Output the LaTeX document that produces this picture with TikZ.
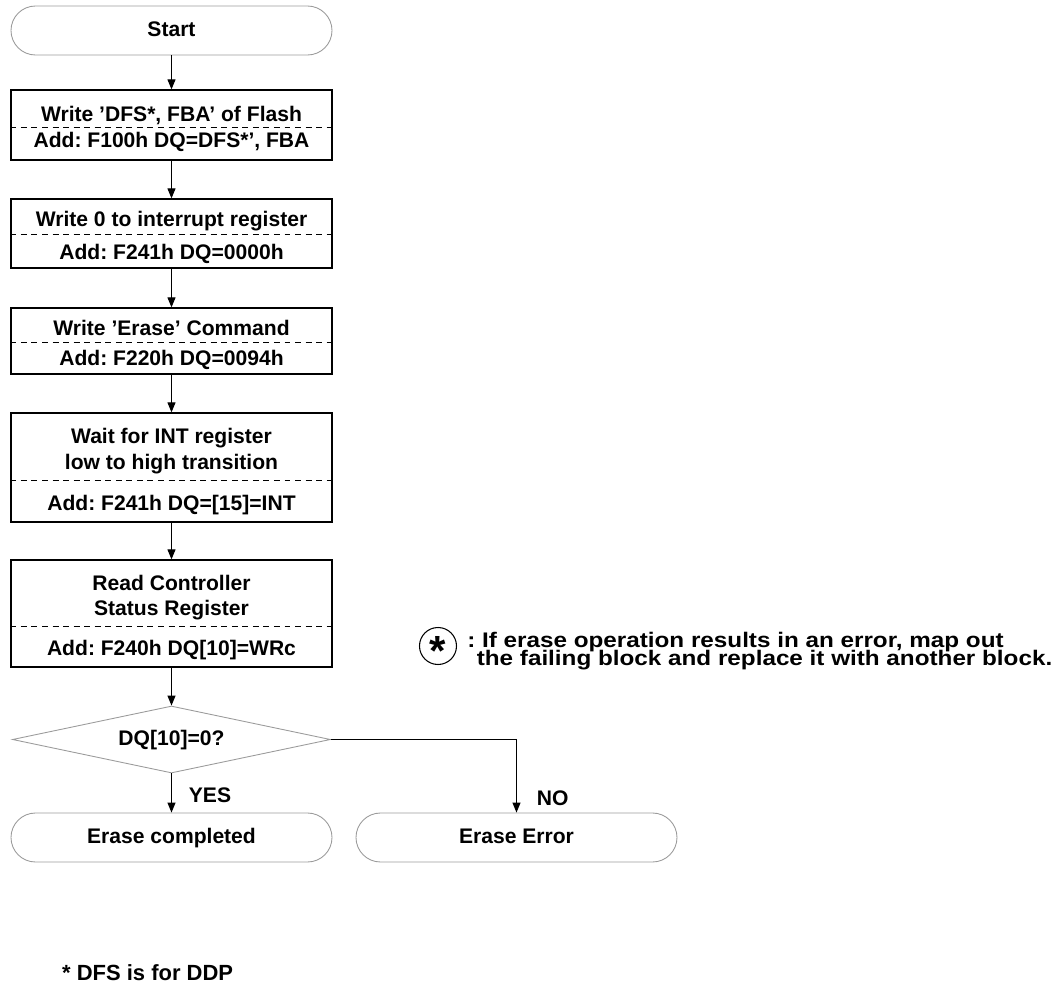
\documentclass[tikz,border=0pt]{standalone}
\usepackage{fontspec}
\setmainfont{Liberation Sans}
\newfontfamily\notefont[FakeStretch=1.15]{Liberation Sans}
\usetikzlibrary{positioning, arrows.meta, shapes.geometric}
\definecolor{termgray}{RGB}{155,155,155}
\frenchspacing
\newcommand\topstrut{\rule{0pt}{1.1em}}

\begin{document}
\begin{tikzpicture}
[
    node distance=2cm and 6.9cm, on grid,
    font=\bfseries\fontsize{12}{15.3}\selectfont,
    step_box/.style={rectangle, draw=black, line width=0.7pt, minimum width=6.42cm, align=center, inner sep=0pt},
    term_node/.style={rectangle, rounded corners=0.49cm, draw=termgray, line width=0.5pt, minimum width=6.42cm, minimum height=0.98cm,
        text height=0.72em, text depth=0em},
    test_node/.style={diamond, draw=termgray, line width=0.5pt, aspect=4.75, minimum width=6.36cm, minimum height=1.34cm, inner sep=0pt,
        text height=0.72em, text depth=0em},
    note_text/.style={anchor=base west, inner sep=0pt, font=\notefont\bfseries\fontsize{12}{14}\selectfont},
    split_line/.style={dash pattern=on 3.4pt off 2.6pt, line width=0.5pt},
    flow_arrow/.style={-{Triangle[length=2mm, width=1.6mm]}, line width=0.6pt, color=black},
]
    \useasboundingbox (0,0) rectangle (21.26,-19.74);

    \node[term_node] (start) at (3.43,-0.61) {Start} ;
    \node[step_box, minimum height=1.40cm] (w1) [below=1.89cm of start] {\topstrut Write 'DFS*, FBA' of Flash\\Add: F100h DQ=DFS*', FBA} ;
    \node[step_box, minimum height=1.38cm] (w2) [below=2.17cm of w1] {\topstrut Write 0 to interrupt register\\[0.12cm]Add: F241h DQ=0000h} ;
    \node[step_box, minimum height=1.32cm] (w3) [below=2.15cm of w2] {\topstrut Write 'Erase' Command\\[0.06cm]Add: F220h DQ=0094h} ;
    \node[step_box, minimum height=2.18cm] (w4) [below=2.53cm of w3] {\topstrut Wait for INT register\\low to high transition\\[0.28cm]Add: F241h DQ=[15]=INT} ;
    \node[step_box, minimum height=2.14cm] (w5) [below=2.92cm of w4] {\topstrut Read Controller\\[-0.04cm]Status Register\\[0.26cm]Add: F240h DQ[10]=WRc} ;
    \node[test_node] (test) [below=2.52cm of w5] {DQ[10]=0?} ;
    \node[term_node] (done) [below=1.96cm of test] {Erase completed} ;
    \node[term_node] (fail) [right=of done] {Erase Error} ;

    % dashed dividers
    \draw[split_line] ([yshift=-0.76cm]w1.north west) -- ([yshift=-0.76cm]w1.north east) ;
    \draw[split_line] ([yshift=-0.72cm]w2.north west) -- ([yshift=-0.72cm]w2.north east) ;
    \draw[split_line] ([yshift=-0.70cm]w3.north west) -- ([yshift=-0.70cm]w3.north east) ;
    \draw[split_line] ([yshift=-1.36cm]w4.north west) -- ([yshift=-1.36cm]w4.north east) ;
    \draw[split_line] ([yshift=-1.34cm]w5.north west) -- ([yshift=-1.34cm]w5.north east) ;

    \draw[flow_arrow] (start) -- (w1) ;
    \draw[flow_arrow] (w1) -- (w2) ;
    \draw[flow_arrow] (w2) -- (w3) ;
    \draw[flow_arrow] (w3) -- (w4) ;
    \draw[flow_arrow] (w4) -- (w5) ;
    \draw[flow_arrow] (w5) -- (test) ;
    \draw[flow_arrow] (test) -- node[right=0.22cm, pos=0.55] (yes_lbl) {YES} (done) ;
    \draw[flow_arrow] (test.east) -| node[right=0.28cm, pos=0.9] (no_lbl) {NO} (fail.north) ;

    % note
    \node[circle, draw=black, line width=0.6pt, minimum size=0.74cm, inner sep=0pt] (star) at (8.76,-12.92) {\fontsize{24}{24}\selectfont\smash{\raisebox{-0.47em}{*}}} ;
    \node[note_text] (note1) at (9.34,-12.94) {: If erase operation results in an error, map out} ;
    \node[note_text] (note2) at (9.53,-13.30) {the failing block and replace it with another block.} ;
    \node[anchor=west, font=\bfseries\fontsize{12.5}{15}\selectfont] (foot) at (1.12,-19.46) {* DFS is for DDP} ;
\end{tikzpicture}
\end{document}
